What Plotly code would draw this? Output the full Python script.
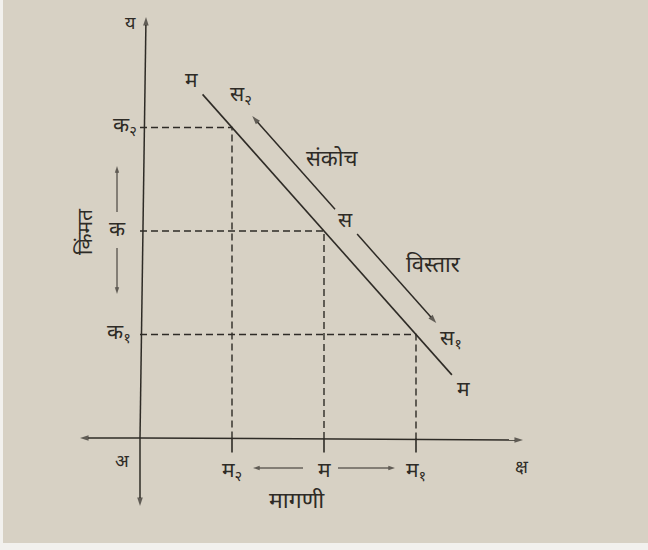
import plotly.graph_objects as go

# Demand diagram: price (किंमत) vs quantity demanded (मागणी)
# quantities and prices at the three marked points on the demand curve
quantity = [1, 2, 3]            # म२, म, म१
price = [3, 2, 1]               # क२, क, क१
qty_labels = ["म<sub>२</sub>", "म", "म<sub>१</sub>"]
price_labels = ["क<sub>२</sub>", "क", "क<sub>१</sub>"]

# demand line म-म : price = 4 - quantity
demand_q = [0.68, 3.39]
demand_p = [4 - q for q in demand_q]

# parallel arrow line (price + quantity = 4.33)
contraction_q = [2.12, 1.22]    # स -> स२
expansion_q = [2.36, 3.22]      # स -> स१
shift = 4.33

ink = "#2e2b26"
paper = "#d7d1c4"
font_family = "Noto Sans Devanagari, Noto Sans, sans-serif"


# map pixel positions of the photo to data units
def px_x(x):
    return (x - 140) / 92


def px_y(y):
    return (438 - y) / 103.5


fig = go.Figure()

# demand curve
fig.add_trace(go.Scatter(x=demand_q, y=demand_p, mode="lines",
                         line=dict(color=ink, width=1.6), hoverinfo="skip"))

# dashed guide lines
for q, p in zip(quantity, price):
    fig.add_trace(go.Scatter(x=[0, q, q], y=[p, p, 0], mode="lines",
                             line=dict(color=ink, width=1.4, dash="7px,4px"),
                             hoverinfo="skip"))
    # small tick below the x axis
    fig.add_trace(go.Scatter(x=[q, q], y=[0, -0.14], mode="lines",
                             line=dict(color=ink, width=1.6), hoverinfo="skip"))


def arrow(x0, y0, x1, y1, width=1.3, head=8):
    fig.add_trace(go.Scatter(
        x=[x0, x1], y=[y0, y1], mode="lines+markers",
        line=dict(color=ink, width=width),
        marker=dict(symbol=["circle", "arrow"], size=[0, head], color=ink,
                    angleref="previous", line=dict(width=0)),
        hoverinfo="skip"))


# axes (drawn as arrows in both directions)
arrow(0, 0, px_x(523), px_y(440), 1.5, 9)
arrow(0, 0, px_x(80), 0, 1.5, 9)
arrow(0, 0, px_x(146), px_y(17), 1.5, 9)
arrow(0, 0, 0, px_y(506), 1.5, 9)

# contraction / expansion arrows
arrow(contraction_q[0], shift - contraction_q[0], contraction_q[1], shift - contraction_q[1], 1.5, 9)
arrow(expansion_q[0], shift - expansion_q[0], expansion_q[1], shift - expansion_q[1], 1.5, 9)

# price arrows beside the axis label
arrow(px_x(117), px_y(212), px_x(117), px_y(166), 1.0, 7)
arrow(px_x(117), px_y(248), px_x(117), px_y(294), 1.0, 7)
# quantity arrows between labels
arrow(px_x(303), px_y(468), px_x(253), px_y(468), 1.0, 7)
arrow(px_x(338), px_y(468), px_x(395), px_y(468), 1.0, 7)

ann = []


def label(x, y, text, size=21, angle=0):
    ann.append(dict(x=x, y=y, xref="x", yref="y", text=text, showarrow=False,
                    textangle=angle, font=dict(size=size, color=ink, family=font_family)))


# point labels
label(px_x(191), px_y(82), "म")
label(px_x(241), px_y(96), "स<sub>२</sub>")
label(px_x(332), px_y(160), "संकोच", 22)
label(px_x(345), px_y(222), "स")
label(px_x(433), px_y(266), "विस्तार", 22)
label(px_x(451), px_y(340), "स<sub>१</sub>")
label(px_x(463), px_y(391), "म")

# axis labels
label(px_x(130), px_y(24), "य", 18)
label(px_x(122), px_y(462), "अ", 18)
label(px_x(522), px_y(468), "क्ष", 18)
label(px_x(297), px_y(502), "मागणी", 23)
label(px_x(87), px_y(232), "किंमत", 21, angle=-90)

for p, t, xp in zip(price, price_labels, [125, 117, 119]):
    label(px_x(xp), p, t)
for q, t in zip(quantity, qty_labels):
    label(q, px_y(472), t)

fig.update_layout(
    width=648, height=550,
    margin=dict(l=0, r=0, t=0, b=0),
    paper_bgcolor="#f2f1ee",
    plot_bgcolor=paper,
    showlegend=False,
    annotations=ann,
    xaxis=dict(range=[px_x(3), px_x(648)], visible=False, domain=[3 / 648, 1]),
    yaxis=dict(range=[px_y(543), px_y(0)], visible=False, domain=[7 / 550, 1]),
)

fig.write_html("out.html", config={"displayModeBar": False},
               post_script="document.body.style.margin='0';document.body.style.overflow='hidden';")
